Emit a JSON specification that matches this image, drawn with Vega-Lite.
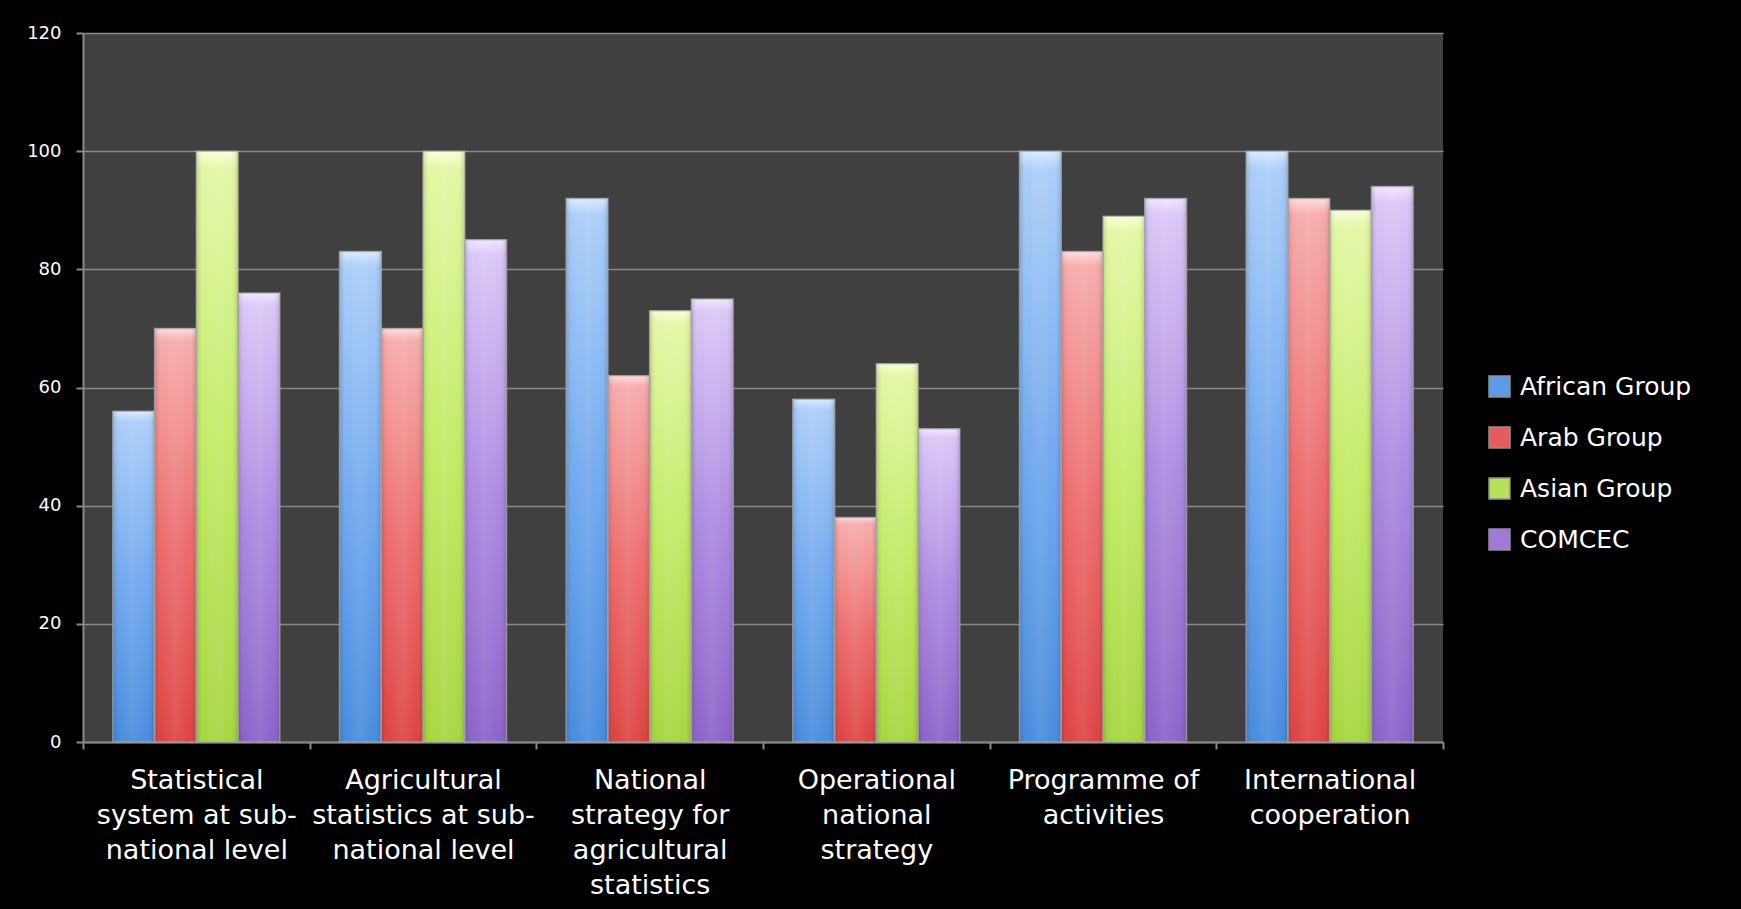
{
  "$schema": "https://vega.github.io/schema/vega-lite/v6.json",
  "autosize": {"type": "none"},
  "padding": {"left": 83, "top": 33, "right": 298, "bottom": 167},
  "width": 1360,
  "height": 709,
  "background": "#000000",
  "config": {
    "font": "DejaVu Sans",
    "view": {"fill": "#404040", "stroke": null}
  },
  "data": {
    "values": [
      {"cat": "Statistical|system at sub-|national level", "group": "African Group", "value": 56},
      {"cat": "Statistical|system at sub-|national level", "group": "Arab Group", "value": 70},
      {"cat": "Statistical|system at sub-|national level", "group": "Asian Group", "value": 100},
      {"cat": "Statistical|system at sub-|national level", "group": "COMCEC", "value": 76},
      {"cat": "Agricultural|statistics at sub-|national level", "group": "African Group", "value": 83},
      {"cat": "Agricultural|statistics at sub-|national level", "group": "Arab Group", "value": 70},
      {"cat": "Agricultural|statistics at sub-|national level", "group": "Asian Group", "value": 100},
      {"cat": "Agricultural|statistics at sub-|national level", "group": "COMCEC", "value": 85},
      {"cat": "National|strategy for|agricultural|statistics", "group": "African Group", "value": 92},
      {"cat": "National|strategy for|agricultural|statistics", "group": "Arab Group", "value": 62},
      {"cat": "National|strategy for|agricultural|statistics", "group": "Asian Group", "value": 73},
      {"cat": "National|strategy for|agricultural|statistics", "group": "COMCEC", "value": 75},
      {"cat": "Operational|national|strategy", "group": "African Group", "value": 58},
      {"cat": "Operational|national|strategy", "group": "Arab Group", "value": 38},
      {"cat": "Operational|national|strategy", "group": "Asian Group", "value": 64},
      {"cat": "Operational|national|strategy", "group": "COMCEC", "value": 53},
      {"cat": "Programme of|activities", "group": "African Group", "value": 100},
      {"cat": "Programme of|activities", "group": "Arab Group", "value": 83},
      {"cat": "Programme of|activities", "group": "Asian Group", "value": 89},
      {"cat": "Programme of|activities", "group": "COMCEC", "value": 92},
      {"cat": "International|cooperation", "group": "African Group", "value": 100},
      {"cat": "International|cooperation", "group": "Arab Group", "value": 92},
      {"cat": "International|cooperation", "group": "Asian Group", "value": 90},
      {"cat": "International|cooperation", "group": "COMCEC", "value": 94}
    ]
  },
  "encoding": {
    "x": {
      "field": "cat",
      "type": "nominal",
      "scale": {
        "domain": [
          "Statistical|system at sub-|national level",
          "Agricultural|statistics at sub-|national level",
          "National|strategy for|agricultural|statistics",
          "Operational|national|strategy",
          "Programme of|activities",
          "International|cooperation"
        ],
        "paddingInner": 0,
        "paddingOuter": 0
      },
      "axis": {
        "title": null,
        "labelAngle": 0,
        "labelExpr": "isValid(datum.value) ? split(datum.value, '|') : ''",
        "labelColor": "#ffffff",
        "labelFontSize": 27,
        "labelLineHeight": 35,
        "labelPadding": 18,
        "labelLimit": 400,
        "labelOverlap": false,
        "labelBaseline": "top",
        "tickBand": "extent",
        "tickColor": "#8a8a8a",
        "tickSize": 7,
        "tickWidth": 2,
        "domainColor": "#8a8a8a",
        "domainWidth": 2,
        "grid": false
      }
    },
    "xOffset": {
      "field": "group",
      "type": "nominal",
      "scale": {"domain": ["African Group", "Arab Group", "Asian Group", "COMCEC"], "paddingInner": 0, "paddingOuter": 0.715}
    },
    "y": {
      "field": "value",
      "type": "quantitative",
      "scale": {"domain": [0, 120], "nice": false},
      "axis": {
        "title": null,
        "values": [0, 20, 40, 60, 80, 100, 120],
        "labelColor": "#ffffff",
        "labelFontSize": 18,
        "labelPadding": 15,
        "tickColor": "#8a8a8a",
        "tickSize": 7,
        "tickWidth": 2,
        "domainColor": "#8a8a8a",
        "domainWidth": 2,
        "gridColor": "#8a8a8a",
        "gridWidth": 1.5
      }
    }
  },
  "layer": [
    {
      "mark": {"type": "bar"},
      "encoding": {
        "color": {
          "field": "group",
          "type": "nominal",
          "scale": {
            "domain": ["African Group", "Arab Group", "Asian Group", "COMCEC"],
            "range": ["#5b9be8", "#e45c5c", "#b6e05a", "#a07ad8"]
          },
          "legend": {
            "title": null,
            "orient": "none",
            "legendX": 1404,
            "legendY": 341,
            "padding": 0,
            "symbolType": "square",
            "symbolSize": 441,
            "symbolStrokeColor": "#909090",
            "symbolStrokeWidth": 1.5,
            "labelColor": "#ffffff",
            "labelFontSize": 25,
            "labelOffset": 8,
            "rowPadding": 24,
            "labelLimit": 300
          }
        }
      }
    },
    {
      "transform": [{"filter": "datum.group === 'African Group'"}],
      "mark": {"type": "bar", "fill": {"gradient": "linear", "x1": 0, "y1": 0, "x2": 0, "y2": 1, "stops": [{"offset": 0, "color": "#d6eaff"}, {"offset": 0.03, "color": "#a8ccf8"}, {"offset": 0.5, "color": "#6ea6ee"}, {"offset": 1, "color": "#4087dc"}]}}
    },
    {
      "transform": [{"filter": "datum.group === 'Arab Group'"}],
      "mark": {"type": "bar", "fill": {"gradient": "linear", "x1": 0, "y1": 0, "x2": 0, "y2": 1, "stops": [{"offset": 0, "color": "#ffdada"}, {"offset": 0.03, "color": "#f6a8a8"}, {"offset": 0.5, "color": "#ec6868"}, {"offset": 1, "color": "#dc3c3c"}]}}
    },
    {
      "transform": [{"filter": "datum.group === 'Asian Group'"}],
      "mark": {"type": "bar", "fill": {"gradient": "linear", "x1": 0, "y1": 0, "x2": 0, "y2": 1, "stops": [{"offset": 0, "color": "#f6ffd6"}, {"offset": 0.03, "color": "#e2f7a2"}, {"offset": 0.5, "color": "#c0ea60"}, {"offset": 1, "color": "#a2d43a"}]}}
    },
    {
      "transform": [{"filter": "datum.group === 'COMCEC'"}],
      "mark": {"type": "bar", "fill": {"gradient": "linear", "x1": 0, "y1": 0, "x2": 0, "y2": 1, "stops": [{"offset": 0, "color": "#f0e4ff"}, {"offset": 0.03, "color": "#d8c4f6"}, {"offset": 0.5, "color": "#a986e0"}, {"offset": 1, "color": "#885cc6"}]}}
    },
    {
      "mark": {
        "type": "bar",
        "fill": {"gradient": "linear", "x1": 0, "y1": 0, "x2": 1, "y2": 0, "stops": [{"offset": 0, "color": "rgba(0,0,0,0.16)"}, {"offset": 0.15, "color": "rgba(255,255,255,0.04)"}, {"offset": 0.5, "color": "rgba(255,255,255,0.12)"}, {"offset": 0.85, "color": "rgba(255,255,255,0.04)"}, {"offset": 1, "color": "rgba(0,0,0,0.16)"}]},
        "stroke": "#a8a8a8",
        "strokeOpacity": 0.7,
        "strokeWidth": 1.5
      }
    }
  ]
}
